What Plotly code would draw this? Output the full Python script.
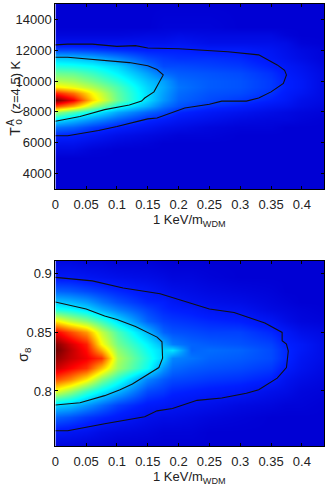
import plotly.graph_objects as go

# top panel: T0 vs 1 KeV/m_WDM
top_x = [0, 0.03, 0.06, 0.1, 0.15, 0.175, 0.2, 0.25, 0.3, 0.35, 0.375, 0.4, 0.44]
top_y = [3000, 5000, 5500, 6000, 6500, 7000, 7500, 8000, 8400, 8800, 9200, 9600, 10000, 10500,
         11000, 11500, 12000, 12500, 13000, 13500, 15000]
top_z = [
    [0.00, 0.00, 0.00, 0.00, 0.00, 0.00, 0.00, 0.00, 0.00, 0.00, 0.00, 0.00, 0.00],
    [0.00, 0.00, 0.00, 0.00, 0.00, 0.00, 0.00, 0.00, 0.00, 0.00, 0.00, 0.00, 0.00],
    [0.03, 0.03, 0.01, 0.00, 0.00, 0.00, 0.00, 0.00, 0.00, 0.00, 0.00, 0.00, 0.00],
    [0.06, 0.06, 0.04, 0.02, 0.01, 0.00, 0.00, 0.00, 0.00, 0.00, 0.00, 0.00, 0.00],
    [0.11, 0.10, 0.08, 0.05, 0.03, 0.02, 0.01, 0.01, 0.00, 0.00, 0.00, 0.00, 0.00],
    [0.20, 0.18, 0.14, 0.10, 0.07, 0.05, 0.04, 0.02, 0.01, 0.01, 0.00, 0.00, 0.00],
    [0.33, 0.28, 0.23, 0.17, 0.11, 0.09, 0.07, 0.05, 0.03, 0.02, 0.02, 0.01, 0.00],
    [0.52, 0.44, 0.36, 0.26, 0.18, 0.15, 0.11, 0.08, 0.06, 0.04, 0.03, 0.02, 0.01],
    [0.80, 0.70, 0.54, 0.38, 0.27, 0.20, 0.16, 0.12, 0.10, 0.07, 0.06, 0.04, 0.02],
    [1.00, 0.88, 0.66, 0.47, 0.32, 0.24, 0.18, 0.15, 0.13, 0.10, 0.08, 0.05, 0.03],
    [0.84, 0.76, 0.62, 0.46, 0.32, 0.25, 0.19, 0.16, 0.15, 0.12, 0.09, 0.07, 0.03],
    [0.64, 0.60, 0.54, 0.44, 0.31, 0.26, 0.20, 0.17, 0.16, 0.13, 0.10, 0.08, 0.03],
    [0.55, 0.53, 0.48, 0.40, 0.29, 0.25, 0.19, 0.17, 0.16, 0.13, 0.10, 0.08, 0.03],
    [0.47, 0.46, 0.42, 0.35, 0.25, 0.19, 0.17, 0.16, 0.15, 0.12, 0.09, 0.07, 0.03],
    [0.39, 0.38, 0.36, 0.31, 0.20, 0.15, 0.15, 0.14, 0.13, 0.10, 0.08, 0.06, 0.02],
    [0.30, 0.29, 0.27, 0.22, 0.15, 0.13, 0.12, 0.12, 0.11, 0.08, 0.06, 0.04, 0.01],
    [0.15, 0.15, 0.14, 0.12, 0.10, 0.10, 0.10, 0.09, 0.09, 0.07, 0.05, 0.03, 0.01],
    [0.06, 0.06, 0.06, 0.06, 0.06, 0.06, 0.07, 0.05, 0.05, 0.05, 0.04, 0.01, 0.00],
    [0.02, 0.02, 0.02, 0.02, 0.03, 0.03, 0.04, 0.03, 0.03, 0.03, 0.01, 0.00, 0.00],
    [0.00, 0.00, 0.00, 0.00, 0.00, 0.01, 0.01, 0.01, 0.00, 0.00, 0.00, 0.00, 0.00],
    [0.00, 0.00, 0.00, 0.00, 0.00, 0.00, 0.00, 0.00, 0.00, 0.00, 0.00, 0.00, 0.00],
]
top_outer_x = [0, 0.02, 0.07, 0.1, 0.14, 0.15, 0.165, 0.2, 0.21, 0.25, 0.27, 0.31, 0.33, 0.35, 0.37, 0.375,
               0.372, 0.36, 0.34, 0.33, 0.28, 0.2, 0.15, 0.13, 0.1, 0.06, 0.02, 0]
top_outer_y = [6450, 6450, 6800, 7050, 7450, 7550, 7600, 8100, 8250, 8500, 8700, 8700, 8900, 9300, 9850, 10400,
               10700, 11050, 11500, 11700, 11900, 12100, 12150, 12300, 12250, 12400, 12400, 12350]
top_inner_x = [0, 0.04, 0.08, 0.12, 0.14, 0.145, 0.16, 0.175, 0.165, 0.15, 0.12, 0.08, 0.02, 0]
top_inner_y = [7400, 7700, 8150, 8450, 8700, 8900, 9300, 10400, 10750, 11000, 11200, 11350, 11550, 11550]

# bottom panel: sigma8 vs 1 KeV/m_WDM
bot_x = [0, 0.025, 0.05, 0.075, 0.1, 0.15, 0.175, 0.19, 0.22, 0.25, 0.3, 0.35, 0.375, 0.4, 0.44]
bot_y = [0.753, 0.765, 0.778, 0.788, 0.80, 0.81, 0.82, 0.828, 0.835, 0.84, 0.85, 0.86, 0.87, 0.876,
         0.885, 0.897, 0.911]
bot_z = [
    [0.02, 0.02, 0.01, 0.01, 0.00, 0.00, 0.00, 0.00, 0.00, 0.00, 0.00, 0.00, 0.00, 0.00, 0.00],
    [0.08, 0.07, 0.06, 0.04, 0.03, 0.02, 0.01, 0.01, 0.01, 0.00, 0.00, 0.00, 0.00, 0.00, 0.00],
    [0.18, 0.16, 0.13, 0.11, 0.09, 0.05, 0.04, 0.04, 0.03, 0.02, 0.01, 0.00, 0.00, 0.00, 0.00],
    [0.31, 0.29, 0.24, 0.19, 0.14, 0.09, 0.08, 0.07, 0.06, 0.05, 0.03, 0.02, 0.01, 0.01, 0.00],
    [0.60, 0.52, 0.42, 0.35, 0.28, 0.15, 0.13, 0.11, 0.10, 0.09, 0.08, 0.05, 0.04, 0.02, 0.01],
    [0.80, 0.74, 0.64, 0.50, 0.40, 0.22, 0.17, 0.15, 0.14, 0.13, 0.12, 0.10, 0.06, 0.04, 0.02],
    [0.92, 0.87, 0.82, 0.68, 0.52, 0.37, 0.24, 0.19, 0.17, 0.16, 0.15, 0.13, 0.09, 0.06, 0.03],
    [0.97, 0.92, 0.88, 0.82, 0.54, 0.39, 0.31, 0.22, 0.20, 0.18, 0.17, 0.15, 0.11, 0.07, 0.04],
    [1.00, 0.93, 0.86, 0.70, 0.51, 0.37, 0.31, 0.33, 0.18, 0.19, 0.18, 0.15, 0.11, 0.08, 0.04],
    [0.98, 0.91, 0.84, 0.62, 0.48, 0.35, 0.27, 0.21, 0.18, 0.17, 0.16, 0.14, 0.10, 0.08, 0.04],
    [0.88, 0.80, 0.72, 0.56, 0.44, 0.28, 0.18, 0.16, 0.15, 0.14, 0.14, 0.11, 0.08, 0.05, 0.03],
    [0.64, 0.56, 0.50, 0.42, 0.33, 0.18, 0.14, 0.13, 0.12, 0.11, 0.10, 0.07, 0.04, 0.02, 0.01],
    [0.38, 0.36, 0.32, 0.26, 0.21, 0.14, 0.11, 0.10, 0.09, 0.07, 0.06, 0.03, 0.02, 0.01, 0.00],
    [0.30, 0.28, 0.25, 0.20, 0.16, 0.11, 0.10, 0.08, 0.06, 0.05, 0.04, 0.02, 0.01, 0.00, 0.00],
    [0.18, 0.17, 0.15, 0.13, 0.11, 0.08, 0.06, 0.05, 0.04, 0.03, 0.02, 0.01, 0.00, 0.00, 0.00],
    [0.08, 0.08, 0.07, 0.06, 0.05, 0.04, 0.03, 0.02, 0.02, 0.01, 0.00, 0.00, 0.00, 0.00, 0.00],
    [0.03, 0.03, 0.02, 0.02, 0.01, 0.01, 0.00, 0.00, 0.00, 0.00, 0.00, 0.00, 0.00, 0.00, 0.00],
]
bot_outer_x = [0, 0.02, 0.08, 0.11, 0.145, 0.165, 0.19, 0.23, 0.27, 0.31, 0.33, 0.36, 0.375, 0.378, 0.375, 0.368,
               0.368, 0.34, 0.29, 0.25, 0.17, 0.11, 0.06, 0]
bot_outer_y = [0.766, 0.766, 0.772, 0.775, 0.778, 0.783, 0.785, 0.792, 0.794, 0.798, 0.801, 0.811, 0.82, 0.834, 0.84, 0.843,
               0.85, 0.858, 0.867, 0.870, 0.883, 0.888, 0.894, 0.897]
bot_inner_x = [0, 0.04, 0.08, 0.105, 0.125, 0.15, 0.168, 0.174, 0.173, 0.165, 0.13, 0.1, 0.08, 0.05, 0]
bot_inner_y = [0.788, 0.790, 0.796, 0.801, 0.806, 0.814, 0.820, 0.828, 0.842, 0.846, 0.855, 0.861, 0.864, 0.870, 0.876]

x_ticks = [0, 0.05, 0.1, 0.15, 0.2, 0.25, 0.3, 0.35, 0.4]
x_labels = ["0", "0.05", "0.1", "0.15", "0.2", "0.25", "0.3", "0.35", "0.4"]
top_ticks = [4000, 6000, 8000, 10000, 12000, 14000]
top_labels = ["4000", "6000", "8000", "10000", "12000", "14000"]
bot_ticks = [0.8, 0.85, 0.9]
bot_labels = ["0.8", "0.85", "0.9"]

jet = [[0, "rgb(0,0,212)"], [0.1, "rgb(0,30,255)"], [0.36, "rgb(0,255,255)"],
       [0.62, "rgb(255,255,0)"], [0.87, "rgb(255,0,0)"], [1, "rgb(110,0,0)"]]

W, H = 327, 491
narrow = "Liberation Sans Narrow, Liberation Sans, Arial, sans-serif"
font = dict(family=narrow, size=13, color="#222")

fig = go.Figure()
fig.add_trace(go.Heatmap(x=top_x, y=top_y, z=top_z, zmin=0, zmax=1, colorscale=jet, zsmooth="best",
                         showscale=False, xaxis="x", yaxis="y"))
fig.add_trace(go.Heatmap(x=bot_x, y=bot_y, z=bot_z, zmin=0, zmax=1, colorscale=jet, zsmooth="best",
                         showscale=False, xaxis="x2", yaxis="y2"))

for xs, ys, xa, ya in [(top_outer_x, top_outer_y, "x", "y"), (top_inner_x, top_inner_y, "x", "y"),
                       (bot_outer_x, bot_outer_y, "x2", "y2"), (bot_inner_x, bot_inner_y, "x2", "y2")]:
    fig.add_trace(go.Scatter(x=xs, y=ys, mode="lines", line=dict(color="#111", width=1.1),
                             showlegend=False, xaxis=xa, yaxis=ya))

axis_style = dict(showgrid=False, zeroline=False, showline=True, linecolor="black", linewidth=1,
                  mirror="ticks", ticks="inside", ticklen=3, tickcolor="black", tickfont=font)

fig.update_layout(
    width=W, height=H, margin=dict(l=0, r=0, t=0, b=0), showlegend=False,
    paper_bgcolor="white", plot_bgcolor="white", font=font,
    xaxis=dict(domain=[52 / W, 324 / W], range=[0, 0.436], tickvals=x_ticks, ticktext=x_labels,
               anchor="y", ticklabelstandoff=3, **axis_style),
    yaxis=dict(domain=[1 - 189 / H, 1 - 4 / H], range=[3000, 15000], tickvals=top_ticks,
               ticktext=top_labels, anchor="x", **axis_style),
    xaxis2=dict(domain=[52 / W, 324 / W], range=[0, 0.436], tickvals=x_ticks, ticktext=x_labels,
                anchor="y2", ticklabelstandoff=3, **axis_style),
    yaxis2=dict(domain=[1 - 446 / H, 1 - 261 / H], range=[0.753, 0.911], tickvals=bot_ticks,
                ticktext=bot_labels, anchor="x2", **axis_style),
)


def label(text, px, py, angle=0, size=13):
    fig.add_annotation(text=text, x=px / W, y=1 - py / H, xref="paper", yref="paper", showarrow=False,
                       textangle=angle, xanchor="center", yanchor="middle",
                       font=dict(family=narrow, size=size, color="#222"))


label("1 KeV/m<sub>WDM</sub>", 188, 220)
label("1 KeV/m<sub>WDM</sub>", 188, 477)
label("(z=4.5) K", 11, 87, -90)
label("T", 11, 131, -90, 14)
label("o", 15, 122, -90, 10)
label("A", 7, 122, -90, 10)
label("σ<sub>8</sub>", 20, 354, -90, 14)

fig.write_html("out.html", config=dict(displayModeBar=False), post_script="document.body.style.margin='0';")
